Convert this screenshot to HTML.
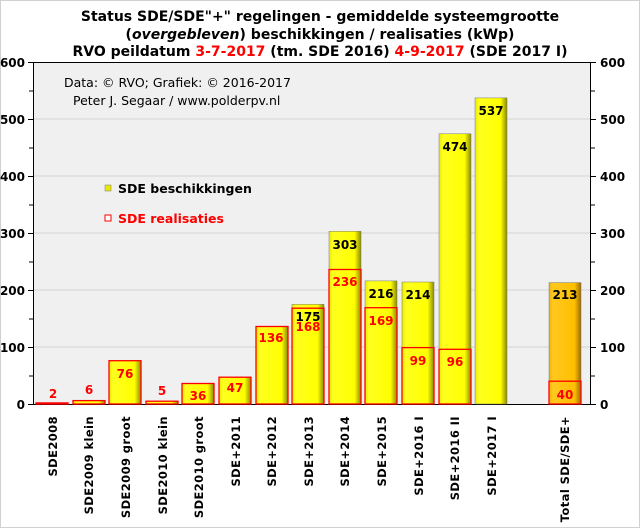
<!DOCTYPE html>
<html><head><meta charset="utf-8"><style>
body{margin:0;background:#fff}
svg{display:block;font-family:"DejaVu Sans","Liberation Sans",sans-serif}
</style></head><body>
<svg width="640" height="528" viewBox="0 0 640 528" xmlns="http://www.w3.org/2000/svg">
<defs>
<linearGradient id="y" x1="0" x2="1" y1="0" y2="0">
<stop offset="0" stop-color="#e8e800"/><stop offset="0.12" stop-color="#ffff20"/><stop offset="0.8" stop-color="#ffff00"/><stop offset="1" stop-color="#8a8a00"/></linearGradient>
<linearGradient id="o" x1="0" x2="1" y1="0" y2="0">
<stop offset="0" stop-color="#f0b000"/><stop offset="0.12" stop-color="#ffc820"/><stop offset="0.8" stop-color="#ffbf00"/><stop offset="1" stop-color="#9a6a00"/></linearGradient>
</defs>
<rect x="0.5" y="0.5" width="639" height="527" fill="#fff" stroke="#d0d0d0"/>
<g font-weight="bold" font-size="14" text-anchor="middle" fill="#000">
<text x="320" y="21">Status SDE/SDE"+"  regelingen - gemiddelde systeemgrootte</text>
<text x="320" y="39">(<tspan font-style="italic">overgebleven</tspan>) beschikkingen  / realisaties (kWp)</text>
<text x="320" y="56">RVO peildatum <tspan fill="#f00">3-7-2017</tspan> (tm. SDE 2016) <tspan fill="#f00">4-9-2017</tspan> (SDE 2017 I)</text>
</g>
<rect x="33" y="62" width="558" height="342" fill="#f0f0f0"/>
<g stroke="#d4d4d4" stroke-width="1">
<line x1="33" x2="591" y1="347" y2="347"/><line x1="33" x2="591" y1="290" y2="290"/>
<line x1="33" x2="591" y1="233" y2="233"/><line x1="33" x2="591" y1="176" y2="176"/>
<line x1="33" x2="591" y1="119" y2="119"/>
</g>
<g stroke="#000" stroke-width="1">
<line x1="33" x2="591" y1="62.5" y2="62.5"/>
<line x1="33" x2="591" y1="404.5" y2="404.5"/>
<line x1="33.5" x2="33.5" y1="62" y2="404"/>
<line x1="590.5" x2="590.5" y1="62" y2="404"/>
</g>
<g stroke="#000">
<path d="M28 62.5h5M28 119.5h5M28 176.5h5M28 233.5h5M28 290.5h5M28 347.5h5M28 404.5h5
M29 91h4M29 148h4M29 205h4M29 262h4M29 319h4M29 376h4"/>
<path d="M591 62.5h5M591 119.5h5M591 176.5h5M591 233.5h5M591 290.5h5M591 347.5h5M591 404.5h5
M591 91h4M591 148h4M591 205h4M591 262h4M591 319h4M591 376h4"/>
</g>
<g font-weight="bold" font-size="12" fill="#000">
<g text-anchor="end">
<text x="25" y="67">600</text><text x="25" y="124">500</text><text x="25" y="181">400</text>
<text x="25" y="238">300</text><text x="25" y="295">200</text><text x="25" y="352">100</text><text x="25" y="409">0</text>
</g>
<text x="600" y="67">600</text><text x="600" y="124">500</text><text x="600" y="181">400</text>
<text x="600" y="238">300</text><text x="600" y="295">200</text><text x="600" y="352">100</text><text x="600" y="409">0</text>
</g>
<g font-size="12.5" fill="#000">
<text x="64" y="87">Data: © RVO;  Grafiek:  © 2016-2017</text>
<text x="73" y="105">Peter J. Segaar / www.polderpv.nl</text>
</g>
<g stroke="#777" stroke-width="0.5">
<rect x="73" y="400.6" width="32" height="3.4" fill="url(#y)"/>
<rect x="109" y="360.7" width="32" height="43.3" fill="url(#y)"/>
<rect x="146" y="401.2" width="32" height="2.8" fill="url(#y)"/>
<rect x="182" y="383.5" width="32" height="20.5" fill="url(#y)"/>
<rect x="219" y="377.2" width="32" height="26.8" fill="url(#y)"/>
<rect x="256" y="326.5" width="32" height="77.5" fill="url(#y)"/>
<rect x="292" y="304.3" width="32" height="99.7" fill="url(#y)"/>
<rect x="329" y="231.3" width="32" height="172.7" fill="url(#y)"/>
<rect x="365" y="280.9" width="32" height="123.1" fill="url(#y)"/>
<rect x="402" y="282" width="32" height="122" fill="url(#y)"/>
<rect x="439" y="133.8" width="32" height="270.2" fill="url(#y)"/>
<rect x="475" y="97.9" width="32" height="306.1" fill="url(#y)"/>
<rect x="549" y="282.6" width="32" height="121.4" fill="url(#o)"/>
</g>
<g fill="none" stroke="#f00" stroke-width="1.3">
<rect x="36" y="402.9" width="32" height="1.1"/>
<rect x="73" y="400.6" width="32" height="3.4"/>
<rect x="109" y="360.7" width="32" height="43.3"/>
<rect x="146" y="401.2" width="32" height="2.8"/>
<rect x="182" y="383.5" width="32" height="20.5"/>
<rect x="219" y="377.2" width="32" height="26.8"/>
<rect x="256" y="326.5" width="32" height="77.5"/>
<rect x="292" y="308.2" width="32" height="95.8"/>
<rect x="329" y="269.5" width="32" height="134.5"/>
<rect x="365" y="307.7" width="32" height="96.3"/>
<rect x="402" y="347.6" width="32" height="56.4"/>
<rect x="439" y="349.3" width="32" height="54.7"/>
<rect x="549" y="381.2" width="32" height="22.8"/>
</g>
<g font-weight="bold" font-size="12" text-anchor="middle" fill="#f00">
<text x="53" y="398">2</text><text x="89" y="394">6</text><text x="125" y="378">76</text>
<text x="162" y="395">5</text><text x="198" y="400">36</text><text x="235" y="392">47</text>
<text x="271" y="342">136</text><text x="308" y="331">168</text><text x="345" y="286">236</text>
<text x="381" y="325">169</text><text x="418" y="365">99</text><text x="455" y="366">96</text>
<text x="565" y="399">40</text>
</g>
<g font-weight="bold" font-size="12" text-anchor="middle" fill="#000">
<text x="308" y="321">175</text><text x="345" y="249">303</text><text x="381" y="298">216</text>
<text x="418" y="299">214</text><text x="455" y="151">474</text><text x="491" y="115">537</text>
<text x="565" y="299">213</text>
</g>
<rect x="105" y="185" width="6" height="6" fill="#e8e800" stroke="#777" stroke-width="0.5"/>
<text x="118" y="193" font-size="12.5" font-weight="bold">SDE beschikkingen</text>
<rect x="105" y="215" width="6" height="6" fill="#fff" stroke="#f00" stroke-width="1"/>
<text x="118" y="223" font-size="12.5" font-weight="bold" fill="#f00">SDE realisaties</text>
<g font-weight="bold" font-size="11.5" text-anchor="end" fill="#000" letter-spacing="0.4">
<text transform="translate(57,416) rotate(-90)">SDE2008</text>
<text transform="translate(93,416) rotate(-90)">SDE2009 klein</text>
<text transform="translate(130,416) rotate(-90)">SDE2009 groot</text>
<text transform="translate(167,416) rotate(-90)">SDE2010 klein</text>
<text transform="translate(203,416) rotate(-90)">SDE2010 groot</text>
<text transform="translate(240,416) rotate(-90)">SDE+2011</text>
<text transform="translate(276,416) rotate(-90)">SDE+2012</text>
<text transform="translate(313,416) rotate(-90)">SDE+2013</text>
<text transform="translate(349,416) rotate(-90)">SDE+2014</text>
<text transform="translate(386,416) rotate(-90)">SDE+2015</text>
<text transform="translate(423,416) rotate(-90)">SDE+2016 I</text>
<text transform="translate(459,416) rotate(-90)">SDE+2016 II</text>
<text transform="translate(496,416) rotate(-90)">SDE+2017 I</text>
<text transform="translate(569,416) rotate(-90)">Total SDE/SDE+</text>
</g>
</svg>
</body></html>
